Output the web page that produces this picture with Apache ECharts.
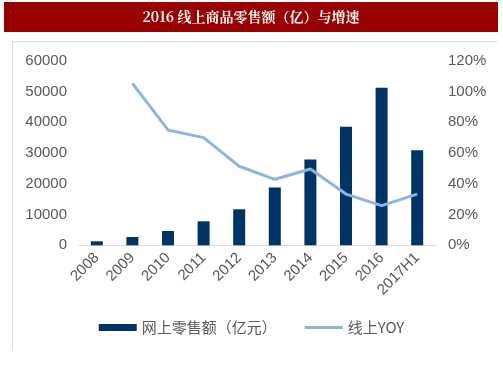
<!DOCTYPE html>
<html><head><meta charset="utf-8">
<script src="https://cdn.jsdelivr.net/npm/echarts@6/dist/echarts.min.js"></script>
<style>html,body{margin:0;padding:0;background:#fff}#c{width:503px;height:378px}</style>
</head><body><div id="c"></div>
<script>
const categories = ['2008','2009','2010','2011','2012','2013','2014','2015','2016','2017H1'];
const salesValues = [1300, 2700, 4640, 7800, 11700, 18800, 27900, 38500, 51200, 30900];
const yoyValues = [null, 1.053, 0.75, 0.70, 0.514, 0.429, 0.496, 0.333, 0.258, 0.333];
const titleText = '2016 线上商品零售额（亿）与增速';
const barName = '网上零售额（亿元）';
const lineName = '线上YOY';

const chart = echarts.init(document.getElementById('c'), null, {renderer:'canvas'});
const lblFont = {color:'#595959', fontSize:15, fontFamily:'Liberation Sans, Arial, sans-serif'};
chart.setOption({
  animation:false,
  graphic:[
    {type:'rect', shape:{x:4,y:2,width:494,height:30}, style:{fill:'#990000'}},
    {type:'text', x:251, y:17, style:{text:titleText, fill:'#fff', fontSize:14, fontWeight:'bold', fontFamily:'Noto Serif CJK SC, Noto Sans CJK SC, serif', align:'center', verticalAlign:'middle'}},
    {type:'line', shape:{x1:12,y1:41.5,x2:497,y2:41.5}, style:{stroke:'#d9d9d9', lineWidth:1}},
    {type:'line', shape:{x1:12.5,y1:41,x2:12.5,y2:350}, style:{stroke:'#d9d9d9', lineWidth:1}}
  ],
  grid:{left:79, right:68, top:60.7, bottom:132.7},
  legend:{
    bottom:38, left:'center', itemGap:28, itemWidth:38, itemHeight:7,
    textStyle:{color:'#595959', fontSize:15, fontFamily:'Noto Sans CJK SC, sans-serif'},
    data:[{name:barName, icon:'rect'}, {name:lineName, icon:'path://M0,0H38V3H0Z', itemStyle:{color:'#8EB4E3'}}]
  },
  xAxis:{
    type:'category', data:categories,
    axisLine:{lineStyle:{color:'#d9d9d9', width:1}},
    axisTick:{show:false},
    axisLabel:Object.assign({rotate:45, interval:0, margin:10}, lblFont)
  },
  yAxis:[
    {type:'value', min:0, max:60000, interval:10000, splitLine:{show:false},
     axisLabel:Object.assign({margin:12, formatter:v=>String(v)}, lblFont)},
    {type:'value', min:0, max:1.2, interval:0.2, splitLine:{show:false},
     axisLabel:Object.assign({margin:13, formatter:v=>Math.round(v*100)+'%'}, lblFont)}
  ],
  series:[
    {name:barName, type:'bar', data:salesValues, barWidth:12, itemStyle:{color:'#003366'}},
    {name:lineName, type:'line', yAxisIndex:1, data:yoyValues, symbol:'none',
     lineStyle:{color:'#8EB4E3', width:3}, itemStyle:{color:'#8EB4E3'}}
  ]
});
</script></body></html>
